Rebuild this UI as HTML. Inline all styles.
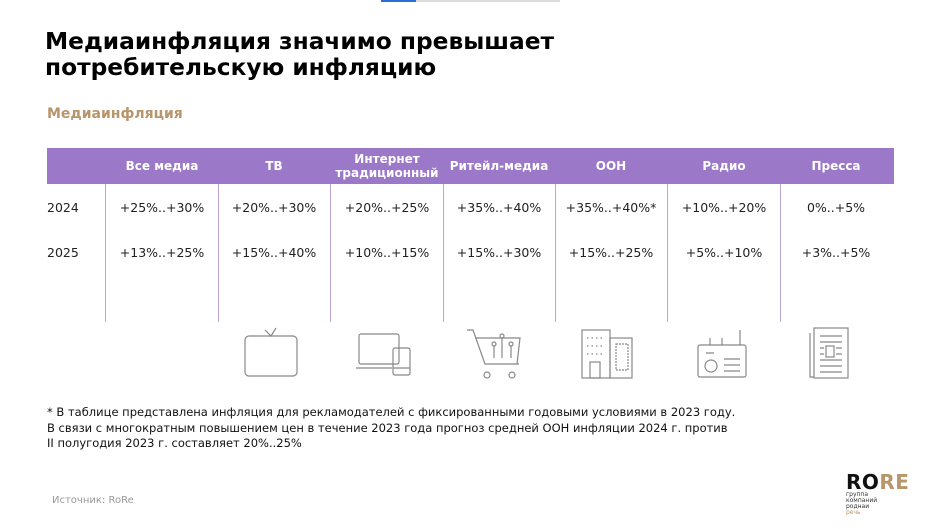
<!DOCTYPE html>
<html><head><meta charset="utf-8"><style>
body{margin:0;width:941px;height:529px;background:#fff;font-family:"DejaVu Sans","Liberation Sans",sans-serif;position:relative;overflow:hidden;color:#222}
.a{position:absolute}
h1{position:absolute;left:45px;top:29px;margin:0;font-size:23.3px;line-height:26px;font-weight:bold;color:#000}
.hd{position:absolute;left:47px;top:148px;width:847px;height:36px;background:#9b78c8}
.c{position:absolute;width:112px;text-align:center;font-size:12.5px}
.h{color:#fff;font-weight:bold;font-size:12px;line-height:14px}
.v{position:absolute;width:1px;background:#b9a3da;top:184px;height:138px}
</style></head><body>
<div class="a" style="left:381px;top:0;width:35px;height:2px;background:#2a6fd6"></div>
<div class="a" style="left:416px;top:0;width:144px;height:2px;background:#ddd"></div>
<h1>Медиаинфляция значимо превышает<br>потребительскую инфляцию</h1>
<div class="a" style="left:47px;top:106px;font-size:14px;font-weight:bold;color:#b8956a">Медиаинфляция</div>
<div class="hd"></div>
<div class="c h" style="left:106px;top:159px">Все медиа</div>
<div class="c h" style="left:218px;top:159px">ТВ</div>
<div class="c h" style="left:331px;top:152px">Интернет<br>традиционный</div>
<div class="c h" style="left:443px;top:159px">Ритейл-медиа</div>
<div class="c h" style="left:555px;top:159px">OOH</div>
<div class="c h" style="left:668px;top:159px">Радио</div>
<div class="c h" style="left:780px;top:159px">Пресса</div>
<div class="v" style="left:105px"></div><div class="v" style="left:218px"></div><div class="v" style="left:330px"></div><div class="v" style="left:443px"></div><div class="v" style="left:555px"></div><div class="v" style="left:667px"></div><div class="v" style="left:780px"></div>
<div class="a" style="left:47px;top:200px;font-size:12.5px">2024</div>
<div class="a" style="left:47px;top:245px;font-size:12.5px">2025</div>
<div class="c" style="left:106px;top:200px">+25%..+30%</div><div class="c" style="left:218px;top:200px">+20%..+30%</div><div class="c" style="left:331px;top:200px">+20%..+25%</div><div class="c" style="left:443px;top:200px">+35%..+40%</div><div class="c" style="left:555px;top:200px">+35%..+40%*</div><div class="c" style="left:668px;top:200px">+10%..+20%</div><div class="c" style="left:780px;top:200px">0%..+5%</div>
<div class="c" style="left:106px;top:245px">+13%..+25%</div><div class="c" style="left:218px;top:245px">+15%..+40%</div><div class="c" style="left:331px;top:245px">+10%..+15%</div><div class="c" style="left:443px;top:245px">+15%..+30%</div><div class="c" style="left:555px;top:245px">+15%..+25%</div><div class="c" style="left:668px;top:245px">+5%..+10%</div><div class="c" style="left:780px;top:245px">+3%..+5%</div>
<svg class="a" style="left:0;top:0" width="941" height="529" fill="none" stroke="#888" stroke-width="1.2">
<rect x="245" y="336" width="52" height="40" rx="4"/><path d="M265 330l6 6 5-8"/>
<rect x="359" y="334" width="40" height="30" rx="2"/><path d="M356 368h36"/><rect x="393" y="348" width="17" height="27" rx="2"/><path d="M393 368h17"/>
<path d="M467 330h6l12 34h32l3-26h-45M485 364h34"/><circle cx="487" cy="375" r="3"/><circle cx="512" cy="375" r="3"/><circle cx="494" cy="344" r="2"/><circle cx="511" cy="344" r="2"/><path d="M494 346v12M511 346v12M502 338v20"/><circle cx="502" cy="336" r="2"/>
<rect x="582" y="330" width="28" height="48"/><rect x="610" y="338" width="22" height="40"/><rect x="616" y="344" width="12" height="26" stroke-dasharray="2 1"/><rect x="590" y="362" width="10" height="16"/><path d="M587 338h18M587 346h18M587 354h18" stroke-dasharray="1.5 3"/>
<rect x="698" y="345" width="48" height="32" rx="2"/><path d="M740 330v15M710 338v7M722 338v7M706 353h8M724 359h16M724 365h16M724 371h16"/><circle cx="711" cy="366" r="6"/>
<path d="M810 333v44h4"/><rect x="814" y="328" width="34" height="50"/><path d="M820 336h22M820 342h22M820 348h4M820 354h4M820 360h22M820 366h22M820 372h22M836 348h6M836 354h6"/><rect x="826" y="346" width="8" height="11"/>
</svg>
<div class="a" style="left:47px;top:405px;font-size:11.5px;line-height:15.5px;color:#111">* В таблице представлена инфляция для рекламодателей с фиксированными годовыми условиями в 2023 году.<br>В связи с многократным повышением цен в течение 2023 года прогноз средней ООН инфляции 2024 г. против<br>II полугодия 2023 г. составляет 20%..25%</div>
<div class="a" style="left:52px;top:495px;font-size:10px;color:#999">Источник: RoRe</div>
<div class="a" style="left:846px;top:470px;font-size:20px;font-weight:bold;letter-spacing:0.5px"><span style="color:#111">RO</span><span style="color:#b8956a">RE</span></div>
<div class="a" style="left:846px;top:492px;font-size:6px;line-height:6px;color:#333">группа<br>компаний<br>роднаи<br><span style="color:#b8956a">речь</span></div>
</body></html>
